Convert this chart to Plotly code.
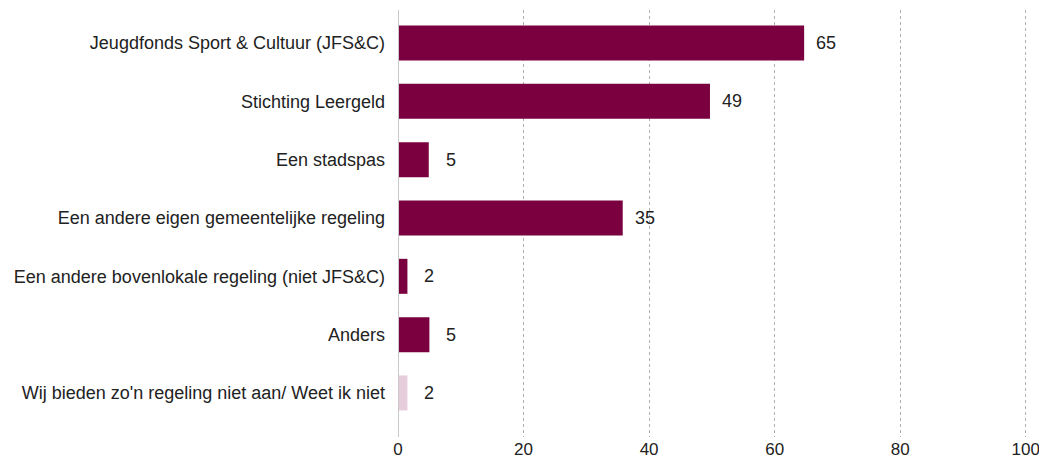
import plotly.graph_objects as go

categories = [
    "Jeugdfonds Sport & Cultuur (JFS&C)",
    "Stichting Leergeld",
    "Een stadspas",
    "Een andere eigen gemeentelijke regeling",
    "Een andere bovenlokale regeling (niet JFS&C)",
    "Anders",
    "Wij bieden zo'n regeling niet aan/ Weet ik niet",
]
values = [64.7, 49.7, 4.9, 35.8, 1.5, 5.0, 1.5]
labels = ["65", "49", "5", "35", "2", "5", "2"]
bar_colors = ["#7b003f"] * 6 + ["#e5cddb"]
x_ticks = [0, 20, 40, 60, 80, 100]

FONT = "Liberation Sans Narrow, Arial Narrow, Liberation Sans, Arial, sans-serif"

fig = go.Figure()
fig.add_trace(go.Bar(
    y=categories, x=values, orientation="h",
    marker=dict(color=bar_colors, line=dict(width=0)),
    width=0.6, hoverinfo="skip",
))

for c, v, t in zip(categories, values, labels):
    fig.add_annotation(x=v, y=c, text=t, showarrow=False, xanchor="center",
                       yanchor="middle", xshift=22,
                       font=dict(family=FONT, size=18, color="#222222"))

fig.update_layout(
    width=1039, height=460,
    margin=dict(l=398, r=7, t=10, b=23),
    paper_bgcolor="white", plot_bgcolor="white",
    showlegend=False,
    font=dict(family=FONT, size=18, color="#222222"),
)
fig.update_xaxes(
    range=[0, 101], tickvals=x_ticks, showgrid=True,
    gridcolor="#b0b0b0", griddash="dot", gridwidth=1,
    zeroline=False, showline=False, ticks="", ticklabelstandoff=0,
    automargin=False, ticklabeloverflow="allow",
    tickfont=dict(family=FONT, size=17, color="#222222"),
)
fig.update_yaxes(
    categoryorder="array", categoryarray=categories,
    range=[6.755, -0.566], showgrid=False, zeroline=False,
    showline=False, ticks="", ticklabelstandoff=12, automargin=False,
    tickfont=dict(family=FONT, size=18, color="#222222"),
)
fig.add_shape(type="line", xref="x", yref="paper", x0=0, x1=0, y0=0, y1=1,
              line=dict(color="#c8c8c8", width=2))

fig.write_html(
    "out.html",
    config={"displayModeBar": False},
    post_script="document.body.style.margin='0';document.body.style.overflow='hidden';",
)
